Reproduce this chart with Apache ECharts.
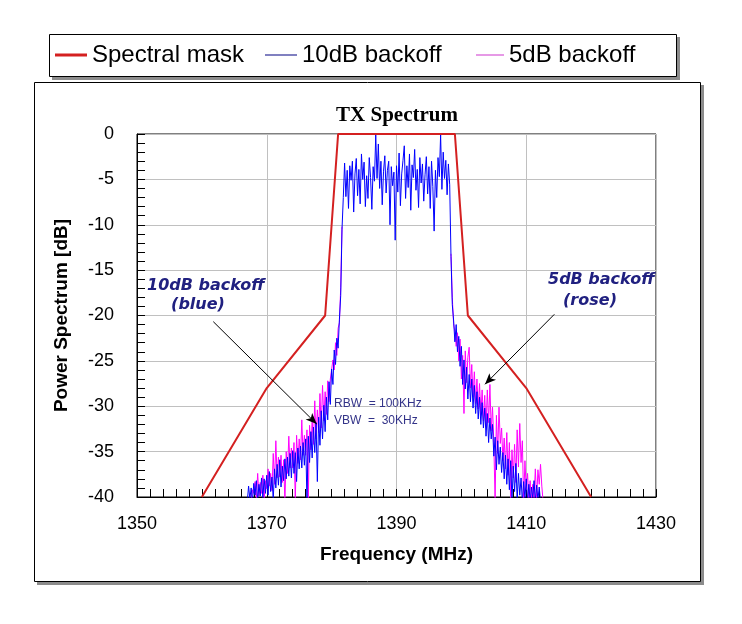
<!DOCTYPE html>
<html><head><meta charset="utf-8">
<script src="https://cdn.jsdelivr.net/npm/echarts@6/dist/echarts.min.js"></script>
<style>html,body{margin:0;padding:0;background:#fff}#c{width:742px;height:624px}</style>
</head><body><div id="c"></div>
<script>
// ---- data ----
const xTickValues = [1350, 1370, 1390, 1410, 1430];
const yTickValues = [0, -5, -10, -15, -20, -25, -30, -35, -40];
const maskFreq = [1360, 1370, 1379, 1381, 1399, 1401, 1410, 1420];
const maskDb   = [-40, -28, -20, 0, 0, -20, -28, -40];

const sampleStep = 0.2; // MHz between spectrum samples
const blueStart = 1367.0;
const blueDb = [
  -40.5, -38.8, -40.2, -39.0, -40.6,  // 1367
  -38.5, -39.8, -38.2, -40.4, -38.6,  // 1368
  -39.9, -37.9, -40.1, -38.0, -39.6,  // 1369
  -37.6, -39.8, -37.2, -39.4, -37.8,  // 1370
  -40.3, -36.9, -39.0, -36.4, -38.7,  // 1371
  -35.9, -38.9, -36.6, -38.2, -35.8,  // 1372
  -38.0, -35.6, -37.7, -35.2, -37.9,  // 1373
  -34.9, -37.4, -35.1, -38.3, -34.6,  // 1374
  -36.9, -34.4, -36.8, -34.0, -36.5,  // 1375
  -33.6, -40.6, -33.3, -36.2, -32.8,  // 1376
  -35.7, -32.3, -35.1, -31.8, -38.3,  // 1377
  -31.2, -34.3, -30.5, -33.6, -29.9,  // 1378
  -32.8, -29.0, -31.5, -27.3, -29.8,  // 1379
  -25.9, -27.6, -23.8, -25.4, -22.5,  // 1380
  -23.6, -20.4, -17.8, -10.5, -7.0,   // 1381
  -3.2, -6.9, -4.0, -8.2, -3.5,       // 1382
  -5.1, -3.0, -8.6, -4.4, -2.7,       // 1383
  -6.8, -3.9, -7.7, -2.2, -5.0,       // 1384
  -3.1, -8.0, -4.6, -7.1, -2.6,       // 1385
  -4.8, -8.3, -3.6, -5.2, -0.1,       // 1386
  -4.9, -1.1, -6.0, -3.0, -7.8,       // 1387
  -4.1, -2.4, -6.5, -4.0, -3.0,       // 1388
  -10.0, -3.6, -5.7, -4.2, -11.7,     // 1389
  -3.5, -6.4, -2.1, -7.9, -4.4,       // 1390
  -2.9, -1.3, -7.1, -3.5, -5.9,       // 1391
  -2.2, -8.4, -3.4, -4.8, -1.7,       // 1392
  -6.2, -3.9, -8.1, -2.6, -5.4,       // 1393
  -3.3, -7.4, -4.5, -2.5, -6.6,       // 1394
  -3.6, -8.2, -3.0, -5.8, -10.7,      // 1395
  -4.0, -7.0, -2.6, -4.7, -0.1,       // 1396
  -6.1, -2.0, -4.9, -2.9, -6.7,       // 1397
  -3.3, -5.6, -13.5, -18.8, -20.5,    // 1398
  -22.9, -21.0, -24.0, -22.3, -25.6,  // 1399
  -23.4, -27.6, -24.9, -28.1, -25.7,  // 1400
  -29.2, -26.5, -29.5, -27.0, -30.2,  // 1401
  -27.7, -30.8, -28.4, -31.4, -29.0,  // 1402
  -32.0, -29.6, -32.4, -30.2, -33.3,  // 1403
  -30.8, -34.0, -31.3, -33.6, -32.0,  // 1404
  -35.5, -33.4, -37.0, -33.8, -36.4,  // 1405
  -34.5, -37.3, -35.1, -38.0, -35.4,  // 1406
  -38.6, -35.8, -39.2, -36.0, -40.5,  // 1407
  -36.6, -39.4, -36.3, -40.3, -37.4,  // 1408
  -39.8, -37.9, -40.6, -38.3, -40.2,  // 1409
  -38.0, -40.4, -38.6, -40.5, -38.9,  // 1410
  -40.1, -38.2, -40.4, -38.7, -40.3,  // 1411
  -38.9, -40.5                        // 1412
];

const magLeftStart = 1367.6;
const magLeftDb = [
  -40.4, -39.2,                       // 1367.6
  -39.6, -38.3, -40.2, -37.4, -39.9,  // 1368
  -38.4, -39.6, -37.6, -40.3, -38.2,  // 1369
  -39.1, -36.9, -38.8, -37.4, -39.3,  // 1370
  -35.2, -38.6, -33.8, -37.9, -35.6,  // 1371
  -37.8, -35.4, -38.4, -35.9, -40.6,  // 1372
  -35.0, -37.4, -33.3, -36.8, -34.6,  // 1373
  -36.8, -34.0, -40.5, -33.2, -36.3,  // 1374
  -33.6, -35.9, -31.5, -35.4, -33.2,  // 1375
  -35.4, -32.6, -40.6, -32.1, -34.8,  // 1376
  -31.6, -34.2, -29.4, -33.6, -30.4,  // 1377
  -32.9, -28.6, -32.4, -27.7, -31.6,  // 1378
  -28.4, -30.9, -27.2, -29.5, -27.0,  // 1379
  -26.8, -24.9, -26.0, -23.0, -24.4,  // 1380
  -21.4, -20.8, -16.9, -10.2          // 1381
];
const magRightStart = 1398.4;
const magRightDb = [
  -13.2, -18.0, -20.9,                // 1398.4
  -21.8, -23.4, -21.9, -25.0, -22.6,  // 1399
  -27.0, -24.4, -30.8, -23.9, -27.4,  // 1400
  -24.6, -23.5, -28.0, -25.4, -29.0,  // 1401
  -26.2, -29.7, -27.0, -30.3, -27.5,  // 1402
  -31.0, -28.2, -31.6, -28.8, -32.3,  // 1403
  -28.2, -31.8, -27.6, -32.7, -30.1,  // 1404
  -34.0, -40.6, -31.0, -35.2, -30.1,  // 1405
  -34.1, -32.4, -36.0, -33.5, -36.9,  // 1406
  -32.9, -37.6, -34.0, -40.5, -34.8,  // 1407
  -37.9, -34.2, -38.4, -32.6, -36.7,  // 1408
  -31.9, -36.2, -33.8, -40.6, -36.0,  // 1409
  -39.2, -37.4, -40.3, -38.2, -40.4,  // 1410
  -38.6, -40.2, -36.9, -40.3, -37.0,  // 1411
  -38.6, -36.4, -38.8, -40.5          // 1412
];

// annotation arrows (data coordinates: [MHz, dB])
const arrowBlue = [[1361.76, -20.68], [1377.70, -31.96]];
const arrowRose = [[1414.33, -19.87], [1403.64, -27.58]];

// ---- build ----
function toPairs(start, arr) {
  return arr.map((v, i) => [Math.round((start + i * sampleStep) * 10) / 10, v]);
}
const maskData = maskFreq.map((f, i) => [f, maskDb[i]]);
const blueData = toPairs(blueStart, blueDb);
const magData = toPairs(magLeftStart, magLeftDb).concat([[1390, '-']], toPairs(magRightStart, magRightDb));

const SANS = '"Liberation Sans", Arial, sans-serif';
const chart = echarts.init(document.getElementById('c'), null, { renderer: 'canvas' });

const legendText = { fontSize: 24, fontFamily: SANS, color: '#000' };
function mkLegend(left, w, h, name, color) {
  return {
    left: left, top: 43, padding: 0, itemWidth: w, itemHeight: h, icon: 'rect',
    selectedMode: false, textStyle: legendText,
    data: [{ name: name, icon: 'rect', itemStyle: { color: color, borderWidth: 0 } }]
  };
}

const annText = (x, y, text, align) => ({
  type: 'text', x: x, y: y, z: 50,
  style: {
    text: text, fill: '#202080',
    font: 'italic bold 16px "DejaVu Sans", sans-serif',
    align: align, verticalAlign: 'middle', textAlign: align, textVerticalAlign: 'middle'
  }
});

chart.setOption({
  animation: false,
  backgroundColor: 'transparent',
  legend: [
    mkLegend(55, 32, 3, 'Spectral mask', '#d42020'),
    mkLegend(265, 32, 1, '10dB backoff', '#000080'),
    mkLegend(476, 28, 1, '5dB backoff', '#cc33cc')
  ],
  graphic: [
    { type: 'rect', z: -20, silent: true, shape: { x: 37, y: 85, width: 667, height: 500 }, style: { fill: '#8c8c8c' } },
    { type: 'rect', z: -19, silent: true, shape: { x: 34.5, y: 82.5, width: 666, height: 499 }, style: { fill: '#fff', stroke: '#000', lineWidth: 1 } },
    { type: 'rect', z: -20, silent: true, shape: { x: 52, y: 37, width: 628, height: 43 }, style: { fill: '#8c8c8c' } },
    { type: 'rect', z: -19, silent: true, shape: { x: 49.5, y: 34.5, width: 627, height: 42 }, style: { fill: '#fff', stroke: '#000', lineWidth: 1 } },
    {
      type: 'text', x: 397, y: 116, z: 50,
      style: { text: 'TX Spectrum', fill: '#000', font: 'bold 21px "Liberation Serif", "Times New Roman", serif',
        align: 'center', verticalAlign: 'middle', textAlign: 'center', textVerticalAlign: 'middle' }
    },
    annText(147, 286, '10dB backoff', 'left'),
    annText(198, 305, '(blue)', 'center'),
    annText(548, 280, '5dB backoff', 'left'),
    annText(590, 301, '(rose)', 'center'),
    {
      type: 'text', x: 334, y: 404, z: 50,
      style: { text: 'RBW  = 100KHz', fill: '#333388', font: '12px ' + SANS, align: 'left', verticalAlign: 'middle', textAlign: 'left', textVerticalAlign: 'middle' }
    },
    {
      type: 'text', x: 334, y: 421, z: 50,
      style: { text: 'VBW  =  30KHz', fill: '#333388', font: '12px ' + SANS, align: 'left', verticalAlign: 'middle', textAlign: 'left', textVerticalAlign: 'middle' }
    }
  ],
  grid: { left: 137, top: 134, width: 519, height: 363, show: true, borderColor: '#000', borderWidth: 1, backgroundColor: 'transparent' },
  xAxis: {
    type: 'value', min: xTickValues[0], max: xTickValues[xTickValues.length - 1],
    interval: xTickValues[1] - xTickValues[0],
    name: 'Frequency (MHz)', nameLocation: 'middle', nameGap: 48,
    nameTextStyle: { fontSize: 19, fontWeight: 'bold', fontFamily: SANS, color: '#000' },
    axisLine: { show: true, onZero: false, lineStyle: { color: '#000', width: 1 } },
    axisTick: { show: true, inside: true, length: 8, lineStyle: { color: '#000' } },
    minorTick: { show: true, splitNumber: 10, length: 8, lineStyle: { color: '#000', width: 1 } },
    splitLine: { show: true, lineStyle: { color: '#c0c0c0', width: 1 } },
    axisLabel: { fontSize: 18, fontFamily: SANS, color: '#000', margin: 18, formatter: (v) => String(v) }
  },
  yAxis: {
    type: 'value', min: yTickValues[yTickValues.length - 1], max: yTickValues[0],
    interval: yTickValues[0] - yTickValues[1],
    name: 'Power Spectrum [dB]', nameLocation: 'middle', nameGap: 66, nameRotate: 90,
    nameTextStyle: { fontSize: 19, fontWeight: 'bold', fontFamily: SANS, color: '#000' },
    axisLine: { show: true, onZero: false, lineStyle: { color: '#000', width: 1 } },
    axisTick: { show: true, inside: true, length: 8, lineStyle: { color: '#000' } },
    minorTick: { show: true, splitNumber: 5, length: 8, lineStyle: { color: '#000', width: 1 } },
    splitLine: { show: true, lineStyle: { color: '#c0c0c0', width: 1 } },
    axisLabel: { fontSize: 18, fontFamily: SANS, color: '#000', margin: 23, formatter: (v) => String(v) }
  },
  series: [
    {
      name: 'Spectral mask', type: 'line', z: 4, data: maskData, symbol: 'none', clip: true,
      lineStyle: { color: '#d42020', width: 2 }, itemStyle: { color: '#d42020' },
      silent: true,
      markLine: {
        silent: true, symbol: ['none', 'arrow'], symbolSize: [7, 11], animation: false,
        label: { show: false },
        lineStyle: { color: '#000', width: 1, type: 'solid' },
        emphasis: { disabled: true },
        data: [
          [{ coord: arrowBlue[0] }, { coord: arrowBlue[1] }],
          [{ coord: arrowRose[0] }, { coord: arrowRose[1] }]
        ]
      }
    },
    {
      name: '10dB backoff', type: 'line', z: 3, data: blueData, symbol: 'none', clip: true, sampling: null,
      lineStyle: { color: '#0000ff', width: 1 }, itemStyle: { color: '#0000ff' }, silent: true
    },
    {
      name: '5dB backoff', type: 'line', z: 2, data: magData, symbol: 'none', clip: true, connectNulls: false,
      lineStyle: { color: '#ff00ff', width: 1 }, itemStyle: { color: '#ff00ff' }, silent: true
    }
  ]
});
</script></body></html>
